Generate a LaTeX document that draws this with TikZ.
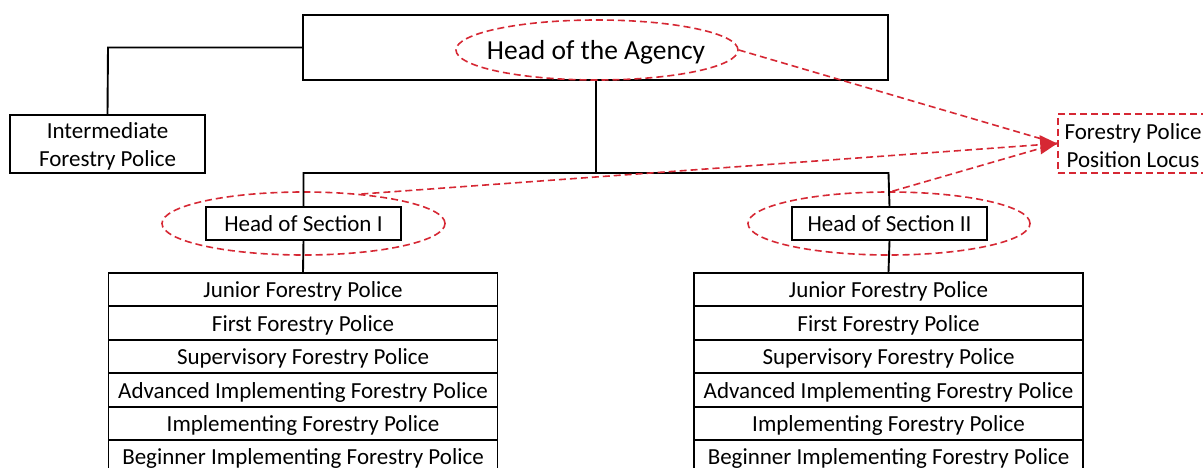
\documentclass[tikz,border=0pt]{standalone}
\usepackage{fontspec}
\setmainfont{Carlito}
\usetikzlibrary{shapes.geometric,arrows.meta}
\definecolor{dred}{RGB}{214,40,52}
\newcommand{\upstrut}{\rule{0pt}{21pt}}
\begin{document}
\begin{tikzpicture}[x=1pt,y=-1pt,
  box/.style={draw=black,line width=1.9pt,rectangle,inner sep=0pt,align=center,
    font=\fontsize{23}{28}\selectfont},
  oneline/.style={text height=18pt,text depth=1.5pt},
  row/.style={box,oneline,minimum width=389pt,minimum height=33.4pt},
  conn/.style={draw=black,line width=1.9pt},
  ring/.style={draw=dred,dash pattern=on 7pt off 4pt,line width=1.6pt,ellipse,inner sep=0pt},
  locusbox/.style={draw=dred,dash pattern=on 7pt off 4pt,line width=1.6pt,rectangle,inner sep=0pt,align=center,
    font=\fontsize{23}{28}\selectfont},
  redline/.style={draw=dred,dash pattern=on 7pt off 4pt,line width=1.6pt},
  redarrow/.style={redline,-{Triangle[length=17pt,width=19pt]}}
]
\useasboundingbox (0,0) rectangle (1203,468);

% top
\node[box,minimum width=585pt,minimum height=65pt] (agency) at (595.5,47.5) {};
\node[ring,minimum width=282pt,minimum height=60pt] (agencyell) at (597,50) {};
\node[font=\fontsize{27.5}{32}\selectfont,inner sep=0pt,text height=21pt,text depth=2.4pt] (agencytxt) at (596,50) {Head of the Agency};

% intermediate
\node[box,minimum width=195pt,minimum height=58pt] (inter) at (107.5,144) {\upstrut Intermediate\\Forestry Police};

% section heads
\node[box,oneline,minimum width=195pt,minimum height=33pt] (sec1) at (303.5,223.5) {Head of Section I};
\node[box,oneline,minimum width=195pt,minimum height=33pt] (sec2) at (889.5,223.5) {Head of Section II};
\node[ring,minimum width=283pt,minimum height=63pt] (sec1ell) at (303.5,223.5) {};
\node[ring,minimum width=282pt,minimum height=63pt] (sec2ell) at (889,223.5) {};

% locus
\node[locusbox,minimum width=150pt,minimum height=59pt] (locus) at (1133,143.5) {\upstrut Forestry Police\\Position Locus};

% lists
\foreach \t [count=\i from 0] in {Junior Forestry Police,First Forestry Police,Supervisory Forestry Police,Advanced Implementing Forestry Police,Implementing Forestry Police,Beginner Implementing Forestry Police}{
  \node[row] (L\i) at (303,289.7+33.4*\i) {\t};
  \node[row] (R\i) at (888.5,289.7+33.4*\i) {\t};
}

% connectors
\coordinate (j1) at (108,47.5);
\draw[conn] (agency.west) -- (j1) -- (inter.north);
\coordinate (mid) at (596,173);
\coordinate (mL) at (303.5,173);
\coordinate (mR) at (888.5,173);
\draw[conn] (agency.south -| mid) -- (mid);
\draw[conn] (sec1.north) -- (mL) -- (mR) -- (sec2.north);
\draw[conn] (sec1.south) -- (L0.north);
\draw[conn] (sec2.south) -- (R0.north);

% red arrows
\draw[redline] (agencyell.east) -- (locus.west);
\draw[redline] (sec2ell.84) -- (locus.west);
\draw[redarrow] (sec1ell.27) -- (locus.west);
\end{tikzpicture}
\end{document}
